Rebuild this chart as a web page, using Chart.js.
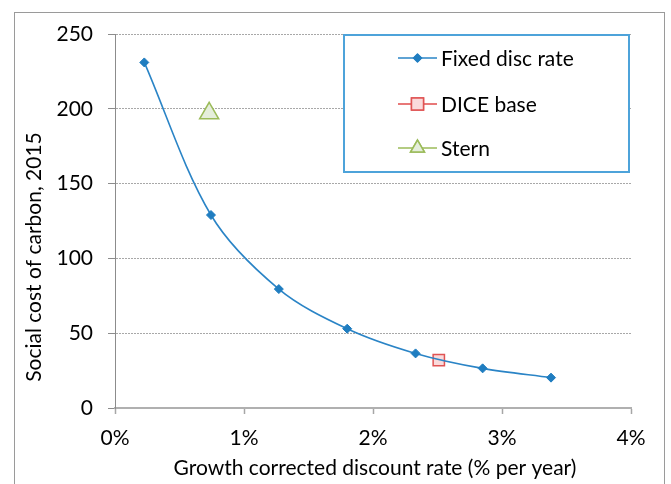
<!DOCTYPE html>
<html>
<head>
<meta charset="utf-8">
<script src="https://cdn.jsdelivr.net/npm/chart.js@4"></script>
<style>
  html,body{margin:0;padding:0;background:#fff;}
  canvas{display:block;}
</style>
</head>
<body>
<canvas id="c" width="671" height="484"></canvas>
<script>
// ---- data ----
const seriesNames = ["Fixed disc rate", "DICE base", "Stern"];
const fixedRate = [0.227, 0.744, 1.27, 1.80, 2.33, 2.85, 3.38];   // % per year
const fixedScc  = [231, 129, 79.5, 53, 36.5, 26.5, 20.3];
const diceRate  = [2.51];
const diceScc   = [32];
const sternRate = [0.73];
const sternScc  = [197];
const xTicks = [0, 1, 2, 3, 4];
const yTicks = [0, 50, 100, 150, 200, 250];
const xTitle = "Growth corrected discount rate (% per year)";
const yTitle = "Social cost of carbon, 2015";

const FONT = "Lato, 'Open Sans', sans-serif";
const FS = 21;
const toPts = (xs, ys) => xs.map((x, i) => ({x: x, y: ys[i]}));

const deco = {
  id: 'deco',
  beforeDraw(chart) {
    const ctx = chart.ctx;
    ctx.save();
    ctx.fillStyle = '#fff';
    ctx.fillRect(0, 0, chart.width, chart.height);
    ctx.strokeStyle = '#9a9a9a';
    ctx.lineWidth = 1;
    ctx.strokeRect(14.5, 12.5, 650, 520);
    ctx.restore();
  },
  afterDraw(chart) {
    const ctx = chart.ctx;
    const ca = chart.chartArea;
    ctx.save();
    ctx.fillStyle = '#000';
    ctx.font = FS + "px " + FONT;
    ctx.textAlign = 'center';
    ctx.textBaseline = 'middle';
    ctx.fillText(xTitle, (ca.left + ca.right) / 2 + 2, 468);
    ctx.translate(34, 257);
    ctx.rotate(-Math.PI / 2);
    ctx.fillText(yTitle, 0, 0);
    ctx.restore();

    // legend box
    ctx.save();
    ctx.fillStyle = '#fff';
    ctx.fillRect(344, 35, 285, 137);
    ctx.strokeStyle = '#4da3da';
    ctx.lineWidth = 2;
    ctx.strokeRect(344, 35, 285, 137);
    const rows = [58, 104, 148];
    const sizes = [4, 8.5, 8];
    chart.data.datasets.forEach((ds, i) => {
      const y = rows[i];
      ctx.strokeStyle = ds.borderColor;
      ctx.lineWidth = 1.5;
      ctx.beginPath();
      ctx.moveTo(398, y);
      ctx.lineTo(437, y);
      ctx.stroke();
      Chart.helpers.drawPoint(ctx, {
        pointStyle: ds.pointStyle,
        radius: sizes[i],
        borderWidth: ds.pointBorderWidth,
        rotation: 0
      }, 417.5, y);
      ctx.fillStyle = ds.pointBackgroundColor;
      ctx.strokeStyle = ds.pointBorderColor;
      ctx.lineWidth = ds.pointBorderWidth;
      ctx.fill();
      ctx.stroke();
      ctx.fillStyle = '#000';
      ctx.font = FS + "px " + FONT;
      ctx.textAlign = 'left';
      ctx.textBaseline = 'middle';
      ctx.fillText(ds.label, 441, y + 1);
    });
    ctx.restore();
  }
};

new Chart(document.getElementById('c'), {
  type: 'scatter',
  data: {
    datasets: [
      {
        label: seriesNames[0],
        data: toPts(fixedRate, fixedScc),
        showLine: true,
        tension: 0.33,
        borderColor: '#2a84c6',
        borderWidth: 1.6,
        pointStyle: 'rectRot',
        pointRadius: 4.5,
        pointBackgroundColor: '#1f7dc0',
        pointBorderColor: '#1f7dc0',
        pointBorderWidth: 1
      },
      {
        label: seriesNames[1],
        data: toPts(diceRate, diceScc),
        showLine: false,
        borderColor: '#e04b4b',
        pointStyle: 'rect',
        pointRadius: 8,
        pointBackgroundColor: '#fadadb',
        pointBorderColor: '#e05454',
        pointBorderWidth: 1.5
      },
      {
        label: seriesNames[2],
        data: toPts(sternRate, sternScc),
        showLine: false,
        borderColor: '#9bbb59',
        pointStyle: 'triangle',
        pointRadius: 11,
        pointBackgroundColor: '#e5eedb',
        pointBorderColor: '#9bbb59',
        pointBorderWidth: 1.5
      }
    ]
  },
  options: {
    responsive: false,
    animation: false,
    devicePixelRatio: 1,
    layout: { padding: { left: 14, top: 34, right: 40, bottom: 0 } },
    plugins: { legend: { display: false }, tooltip: { enabled: false } },
    scales: {
      x: {
        type: 'linear',
        min: 0, max: 4,
        afterBuildTicks: s => { s.ticks = xTicks.map(v => ({value: v})); },
        afterFit: s => { s.height = 76; },
        ticks: {
          callback: v => v + '%',
          color: '#000',
          font: { family: FONT, size: FS },
          padding: 12,
          maxRotation: 0
        },
        grid: {
          drawOnChartArea: false,
          drawTicks: true,
          tickLength: 6,
          tickColor: '#a6a6a6',
          tickWidth: 1.5
        },
        border: { color: '#b0b0b0', width: 2 },
        title: { display: false }
      },
      y: {
        type: 'linear',
        min: 0, max: 250,
        afterBuildTicks: s => { s.ticks = yTicks.map(v => ({value: v})); },
        afterFit: s => { s.width = 101; },
        ticks: {
          color: '#000',
          font: { family: FONT, size: FS },
          padding: 15
        },
        grid: {
          color: ctx => (ctx.tick && ctx.tick.value === 0) ? 'rgba(0,0,0,0)' : '#a8a8a8',
          lineWidth: 1,
          drawTicks: true,
          tickLength: 7,
          tickColor: '#8c8c8c',
          tickWidth: 1,
          tickBorderDash: []
        },
        border: { color: '#8c8c8c', width: 1, dash: [2, 1] },
        title: { display: false }
      }
    }
  },
  plugins: [deco]
});
</script>
</body>
</html>
